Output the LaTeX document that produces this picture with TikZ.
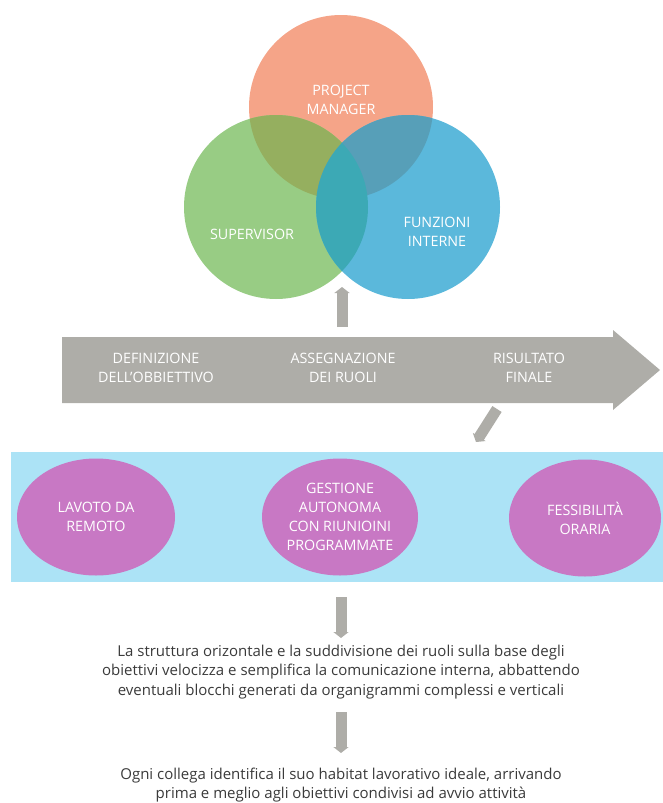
\documentclass[tikz,border=0pt]{standalone}
\usepackage{fontspec}
\setmainfont{Open Sans}
\usepackage{tikz}
\usetikzlibrary{arrows.meta,shapes.geometric}

\definecolor{pmorange}{HTML}{F5A488}
\definecolor{supgreen}{HTML}{98CC84}
\definecolor{funblue}{HTML}{5BB8DB}
\definecolor{ogmix}{HTML}{95AF5F}
\definecolor{obmix}{HTML}{579FB8}
\definecolor{gbmix}{HTML}{3CA9B5}
\definecolor{flowgray}{HTML}{AEADA8}
\definecolor{bandblue}{HTML}{ACE3F6}
\definecolor{ellviolet}{HTML}{C878C4}
\definecolor{bodytext}{HTML}{3A3A3A}

\tikzset{
  captext/.style={text=white, font=\fontsize{14.3}{19}\selectfont, align=center},
  bodypar/.style={text=bodytext, font=\fontsize{15}{19.5}\selectfont, align=center},
  roleball/.style={circle, minimum size=184pt, inner sep=0pt},
  ellblob/.style={ellipse, fill=ellviolet, inner sep=0pt, minimum height=117pt, captext},
  grayarrow/.style={line width=11pt, flowgray, -{Triangle[width=15pt,length=6pt]}},
}

\begin{document}
\begin{tikzpicture}[x=1pt, y=-1pt]
\useasboundingbox (0,0) rectangle (663,803);

% Roles
\node[roleball, fill=pmorange] (pm) at (341,107) {};
\node[roleball, fill=supgreen] (sup) at (276,207) {};
\node[roleball, fill=funblue] (fun) at (408,207) {};
\begin{scope}
  \clip (pm.center) circle[radius=92pt];
  \fill[ogmix] (sup.center) circle[radius=92pt];
  \fill[obmix] (fun.center) circle[radius=92pt];
\end{scope}
\begin{scope}
  \clip (sup.center) circle[radius=92pt];
  \fill[gbmix] (fun.center) circle[radius=92pt];
\end{scope}
\node[captext] (pmtext) at (341,100) {PROJECT\\MANAGER};
\node[captext] (suptext) at (252,234) {SUPERVISOR};
\node[captext] (funtext) at (437,232) {FUNZIONI\\INTERNE};

% Process arrow
\fill[flowgray] (62,337) -- (613,337) -- (613,330) -- (660,370) -- (613,410)
  -- (613,403) -- (62,403) -- cycle;
\node[captext] (goal) at (156,368) {DEFINIZIONE\\DELL'OBBIETTIVO};
\node[captext] (roles) at (343,368) {ASSEGNAZIONE\\DEI RUOLI};
\node[captext] (result) at (529,368) {RISULTATO\\FINALE};

\coordinate (upfrom) at (342,327);
\coordinate (upto) at (342,287);
\draw[grayarrow] (upfrom) -- (upto);
\coordinate (diagfrom) at (497,409);
\coordinate (diagto) at (476,442);
\draw[grayarrow] (diagfrom) -- (diagto);

% Working modes
\fill[bandblue] (11,452) rectangle (663,582);
\node[ellblob, minimum width=158pt] (remote) at (96,517) {LAVOTO DA\\REMOTO};
\node[ellblob, minimum width=156pt] (auto) at (340,517) {GESTIONE\\AUTONOMA\\CON RIUNIOINI\\PROGRAMMATE};
\node[ellblob, minimum width=152pt] (flex) at (585,518) {FESSIBILITÀ\\ORARIA};

% Outcomes
\node[bodypar] (para1) at (341,672) {La struttura orizontale e la suddivisione dei ruoli sulla base degli\\
  obiettivi velocizza e semplifica la comunicazione interna, abbattendo\\
  eventuali blocchi generati da organigrammi complessi e verticali};
\node[bodypar] (para2) at (341,785) {Ogni collega identifica il suo habitat lavorativo ideale, arrivando\\
  prima e meglio agli obiettivi condivisi ad avvio attività};
\coordinate (down1from) at (341,597);
\coordinate (down1to) at (341,638);
\draw[grayarrow] (down1from) -- (down1to);
\coordinate (down2from) at (341,712);
\coordinate (down2to) at (341,753);
\draw[grayarrow] (down2from) -- (down2to);
\end{tikzpicture}
\end{document}
